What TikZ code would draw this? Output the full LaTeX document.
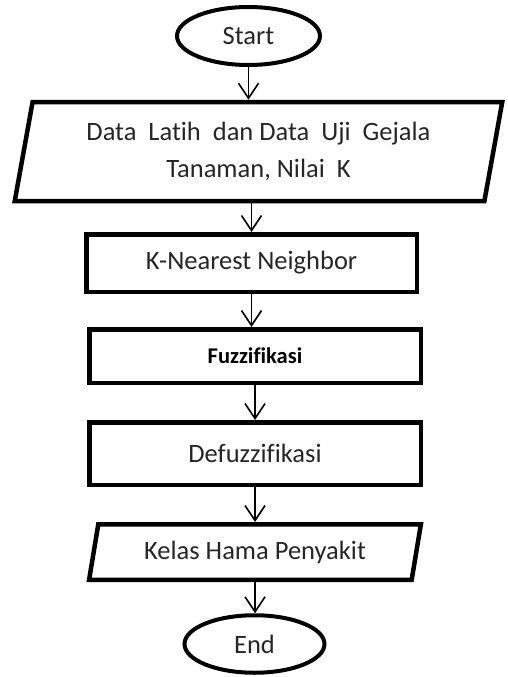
\documentclass[tikz,border=0pt]{standalone}
\usepackage{fontspec}
\setmainfont{Carlito}[Ligatures=NoCommon]
\usetikzlibrary{shapes.geometric,arrows.meta}
\begin{document}
\begin{tikzpicture}[x=1pt,y=-1pt,
  txt/.style={font=\fontsize{26.5}{37}\selectfont, align=center, inner sep=0pt, text=black!85},
  term/.style={txt, draw, ellipse, line width=4pt},
  proc/.style={txt, draw, rectangle, line width=4.5pt},
  io/.style={txt, draw, trapezium, trapezium stretches=true, line width=4.5pt},
  flow/.style={line width=1.6pt, -{Straight Barb[length=15pt,width=20pt,line width=1.6pt]}}
]
\useasboundingbox (0,0) rectangle (507,677);

\node[term, minimum width=143pt, minimum height=58pt] (start) at (248.5,36) {Start};
\node[io, trapezium left angle=77, trapezium right angle=103,
      minimum width=489pt, minimum height=99pt] (input) at (258.5,151.5)
  {Data~~Latih~~dan Data~~Uji~~Gejala\\Tanaman, Nilai~~K};
\node[proc, minimum width=330.5pt, minimum height=57.5pt] (knn) at (251.5,263) {K-Nearest Neighbor};
\node[proc, minimum width=331.5pt, minimum height=53.5pt, font=\fontsize{22.5}{26}\selectfont\bfseries, text=black] (fuzz) at (255,356) {Fuzzifikasi};
\node[proc, minimum width=331.5pt, minimum height=62.5pt] (defuzz) at (255,453.5) {Defuzzifikasi};
\node[io, trapezium left angle=74, trapezium right angle=106,
      minimum width=332pt, minimum height=55.5pt] (output) at (255,552) {Kelas Hama Penyakit};
\node[term, minimum width=140pt, minimum height=57.5pt] (end) at (254.5,644) {End};

\draw[flow] (start.south) -- (start.south |- input.north);
\draw[flow] (input.south -| knn.south) -- (knn.north);
\draw[flow] (knn.south) -- (knn.south |- fuzz.north);
\draw[flow] (fuzz.south) -- (defuzz.north);
\draw[flow] (defuzz.south) -- (defuzz.south |- output.north);
\draw[flow] (output.south) -- (output.south |- end.north);
\end{tikzpicture}
\end{document}
